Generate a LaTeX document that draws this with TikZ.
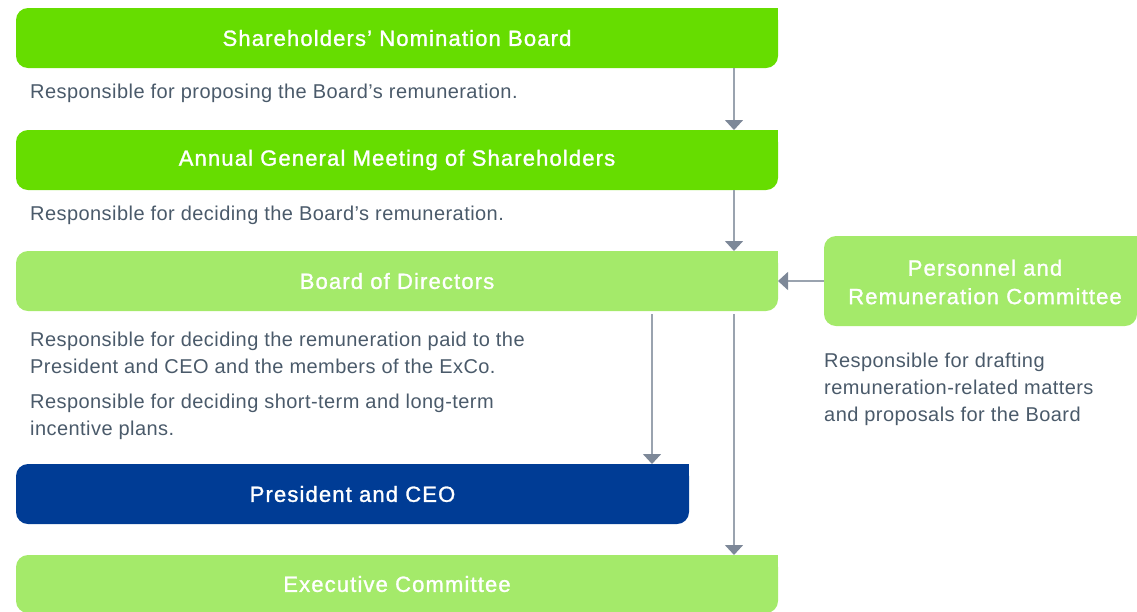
\documentclass[tikz,border=0pt]{standalone}
\usepackage{fontspec}
\setmainfont{Liberation Sans}
\newfontfamily\descfont[LetterSpace=2.2]{Liberation Sans}
\newfontfamily\boxfont[LetterSpace=5.2, FakeBold=1.3]{Liberation Sans}
\usetikzlibrary{arrows.meta}

\definecolor{brightgreen}{HTML}{66DD00}
\definecolor{softgreen}{HTML}{A4EA6A}
\definecolor{darkblue}{HTML}{003C95}
\definecolor{bodygray}{HTML}{4A5A6A}
\definecolor{linegray}{HTML}{9AA3AF}
\definecolor{tipgray}{HTML}{7D8898}

\tikzset{
  orgbox/.style={rectangle, rounded corners=12pt, fill=#1, text=white,
    minimum height=60pt, inner sep=0pt, outer sep=0pt,
    font=\boxfont\fontsize{22}{26}\selectfont},
  desc/.style={anchor=base west, inner sep=0pt, align=left, text=bodygray,
    font=\descfont\fontsize{20}{27}\selectfont},
  flow/.style={draw=linegray, line width=1.6pt,
    -{Triangle[width=18pt,length=10pt,color=tipgray]}},
}

\begin{document}
\begin{tikzpicture}[x=1pt,y=-1pt]
\useasboundingbox (0,0) rectangle (1137,611);

% boxes
\node[orgbox=brightgreen, minimum width=762pt] (nom) at (397,38) {Shareholders’ Nomination Board};
\node[orgbox=brightgreen, minimum width=762pt] (agm) at (397,160) {Annual General Meeting of Shareholders};
\node[orgbox=softgreen, minimum width=762pt] (board) at (397,281) {Board of Directors};
\node[orgbox=softgreen, minimum width=313pt, minimum height=90pt] (prc) at (980.5,281) {};
\node[text=white, align=center, inner sep=0pt,
      font=\boxfont\fontsize{22}{28.5}\selectfont] (prctext) at (985,282) {Personnel and\\Remuneration Committee};
\node[orgbox=darkblue, minimum width=673pt] (ceo) at (352.5,494) {President and CEO};
\node[orgbox=softgreen, minimum width=762pt, minimum height=58pt] (exco) at (397,584) {Executive Committee};

% square top-right corners
\foreach \n/\c in {nom/brightgreen, agm/brightgreen, board/softgreen, prc/softgreen, ceo/darkblue, exco/softgreen}
  \fill[\c] (\n.north east) rectangle ++(-14,14);

% descriptions (anchored at the baseline of the last line)
\node[desc] (d1) at (30,98) {Responsible for proposing the Board’s remuneration.};
\node[desc] (d2) at (30,220.5) {Responsible for deciding the Board’s remuneration.};
\node[desc] (d3) at (30,373.5) {Responsible for deciding the remuneration paid to the\\President and CEO and the members of the ExCo.};
\node[desc] (d4) at (30,435.5) {Responsible for deciding short-term and long-term\\incentive plans.};
\node[desc] (d5) at (824,421.5) {Responsible for drafting\\remuneration-related matters\\and proposals for the Board};

% connectors
\coordinate (colA) at (734,0);
\coordinate (colB) at (652,0);
\draw[flow] (nom.south -| colA) -- (agm.north -| colA);
\draw[flow] (agm.south -| colA) -- (board.north -| colA);
\draw[flow] (prc.west) -- (board.east);
\draw[flow, shorten <=3pt] (board.south -| colB) -- (ceo.north -| colB);
\draw[flow, shorten <=3pt] (board.south -| colA) -- (exco.north -| colA);
\end{tikzpicture}
\end{document}
